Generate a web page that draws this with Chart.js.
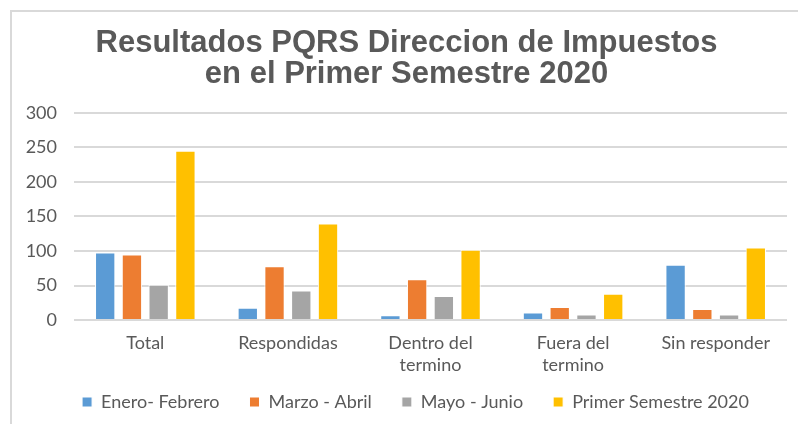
<!DOCTYPE html>
<html>
<head>
<meta charset="utf-8">
<script src="https://cdn.jsdelivr.net/npm/chart.js@4.4.1/dist/chart.umd.min.js"></script>
<style>
  html, body { margin: 0; padding: 0; background: #fff; }
  #wrap { position: relative; width: 798px; height: 424px; }
  #marco { position: absolute; left: 10px; top: 10px; right: 0; bottom: 0;
           border-left: 2px solid #d9d9d9; border-top: 2px solid #d9d9d9; }
  canvas { position: absolute; left: 0; top: 0; }
</style>
</head>
<body>
<div id="wrap">
  <div id="marco"></div>
  <canvas id="grafica" width="798" height="424"></canvas>
</div>
<script>
// Categorias y valores por periodo
const categorias = ['Total', 'Respondidas', ['Dentro del', 'termino'], ['Fuera del', 'termino'], 'Sin responder'];
const eneroFebrero = [98, 18, 7, 11, 80];
const marzoAbril = [95, 78, 59, 19, 16];
const mayoJunio = [51, 43, 35, 8, 8];
const primerSemestre = [245, 140, 102, 38, 105];
const ticksY = [0, 50, 100, 150, 200, 250, 300];

const gris = '#595959';

// Sube la leyenda para que quede pegada a las etiquetas del eje X
// (solo se mueve el borde superior, asi no se recorta)
const subirLeyenda = {
  id: 'subirLeyenda',
  afterLayout(chart) {
    chart.legend.top -= 25;
    chart.legend.height += 25;
    chart.legend.left += 18;
  }
};

const ctx = document.getElementById('grafica').getContext('2d');
const myChart = new Chart(ctx, {
  type: 'bar',
  data: {
    labels: categorias,
    datasets: [
      { label: 'Enero- Febrero', data: eneroFebrero, backgroundColor: '#5b9bd5' },
      { label: 'Marzo - Abril', data: marzoAbril, backgroundColor: '#ed7d31' },
      { label: 'Mayo - Junio', data: mayoJunio, backgroundColor: '#a5a5a5' },
      { label: 'Primer Semestre 2020', data: primerSemestre, backgroundColor: '#ffc000' }
    ].map(ds => Object.assign(ds, {
      borderColor: '#ffffff',
      borderWidth: 1,
      barPercentage: 0.76,
      categoryPercentage: 0.75
    }))
  },
  plugins: [subirLeyenda],
  options: {
    responsive: false,
    animation: false,
    layout: { padding: { left: 26, right: 11, top: 0, bottom: 1 } },
    plugins: {
      title: {
        display: true,
        text: ['Resultados PQRS Direccion de Impuestos', 'en el Primer Semestre 2020'],
        color: gris,
        font: { family: 'Liberation Sans', size: 31, weight: 'bold', lineHeight: 1.03 },
        padding: { top: 27, bottom: 22 }
      },
      legend: {
        position: 'bottom',
        maxHeight: 35,
        labels: {
          color: gris,
          font: { family: 'Lato', size: 18 },
          boxWidth: 10,
          boxHeight: 10,
          padding: 30
        }
      },
      tooltip: { enabled: false }
    },
    scales: {
      x: {
        grid: { display: false, drawTicks: false },
        border: { display: false },
        ticks: {
          color: gris,
          font: { family: 'Lato', size: 18, lineHeight: 1.22 },
          padding: 12,
          maxRotation: 0
        }
      },
      y: {
        min: 0,
        max: 300,
        afterBuildTicks: axis => { axis.ticks = ticksY.map(v => ({ value: v })); },
        grid: { color: '#d9d9d9', lineWidth: 2, drawTicks: false },
        border: { display: false },
        ticks: {
          color: gris,
          font: { family: 'Lato', size: 18 },
          padding: 17
        },
        afterFit: axis => { axis.width = 48; }
      }
    }
  }
});
</script>
</body>
</html>
